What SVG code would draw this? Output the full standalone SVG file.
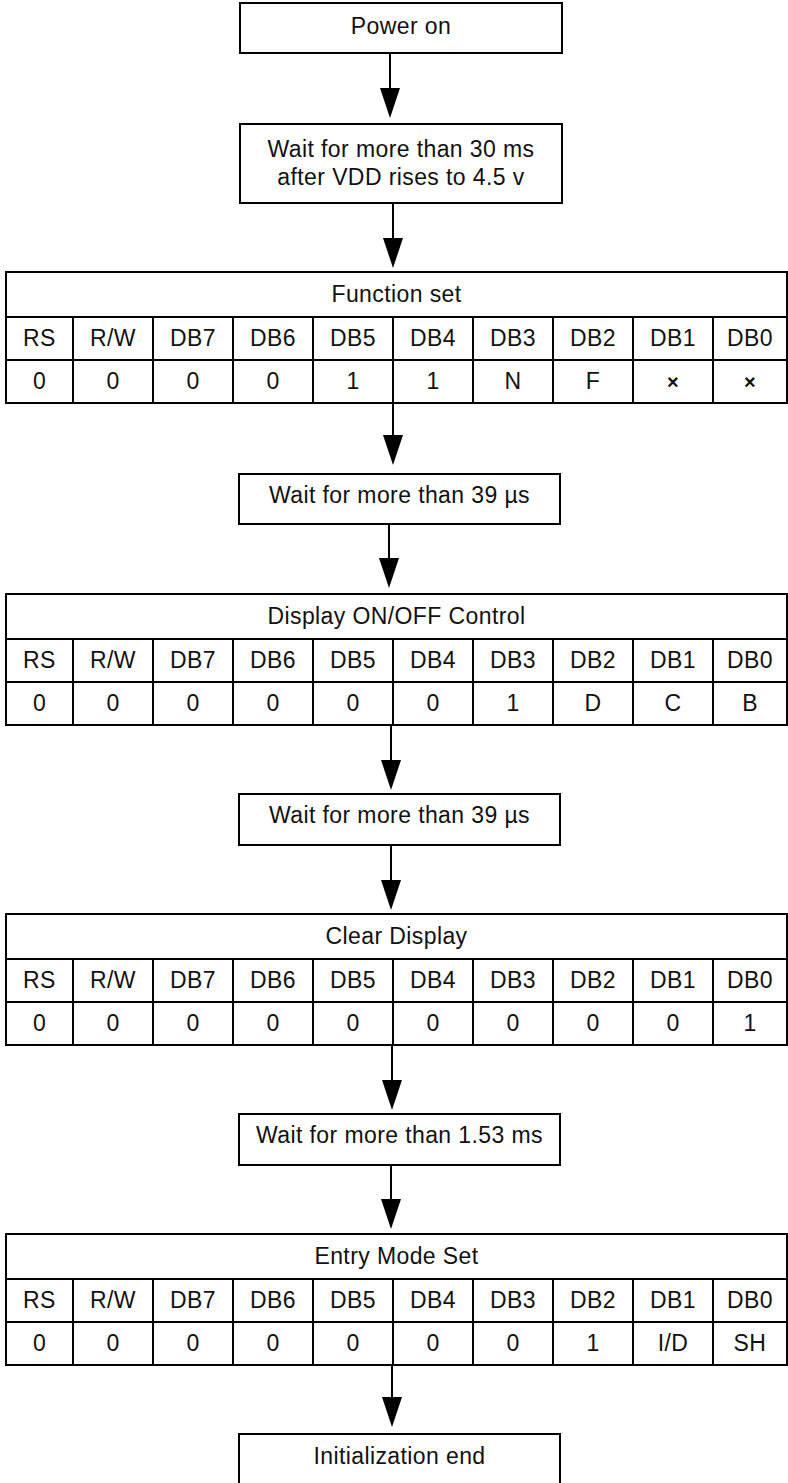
<svg xmlns="http://www.w3.org/2000/svg" width="788" height="1483" viewBox="0 0 788 1483">
<style>
.b{fill:#fff;stroke:#000;stroke-width:2}
.l{fill:none;stroke:#000;stroke-width:2}
.t{font-family:"Liberation Sans",Arial,sans-serif;font-size:23px;letter-spacing:0.4px;fill:#111;text-anchor:middle}
.x{font-weight:bold;font-size:20px}
.ah{fill:#000}
</style>
<defs>
<g id="grid">
<rect class="b" x="6" y="0" width="781" height="131"/>
<path class="l" d="M6 45H787M6 88H787M73 45V131M153 45V131M233 45V131M313 45V131M393 45V131M473 45V131M553 45V131M633 45V131M713 45V131"/>
<g class="t">
<text x="39.5" y="74">RS</text><text x="113" y="74">R/W</text><text x="193" y="74">DB7</text><text x="273" y="74">DB6</text><text x="353" y="74">DB5</text><text x="433" y="74">DB4</text><text x="513" y="74">DB3</text><text x="593" y="74">DB2</text><text x="673" y="74">DB1</text><text x="750" y="74">DB0</text>
</g>
</g>
</defs>
<rect width="788" height="1483" fill="#fff"/>
<g id="connectors">
<path class="l" d="M390 53V95M393 203V240M393 404V440M389 524V560M391 725V762M391 845V882M392 1045V1082M391 1165V1201M392 1366V1399"/>
<polygon class="ah" points="390,118 380,88 400,88"/>
<polygon class="ah" points="393,268 383,238 403,238"/>
<polygon class="ah" points="393,465 383,435 403,435"/>
<polygon class="ah" points="389,588 379,558 399,558"/>
<polygon class="ah" points="391,790 381,760 401,760"/>
<polygon class="ah" points="391,910 381,880 401,880"/>
<polygon class="ah" points="392,1110 382,1080 402,1080"/>
<polygon class="ah" points="391,1229 381,1199 401,1199"/>
<polygon class="ah" points="392,1427 382,1397 402,1397"/>
</g>
<g id="power-on">
<rect class="b" x="240" y="3" width="322" height="50"/>
<text class="t" x="401" y="34">Power on</text>
</g>
<g id="wait-30ms">
<rect class="b" x="240" y="124" width="322" height="79"/>
<text class="t" x="401" y="157">Wait for more than 30 ms</text>
<text class="t" x="401" y="185">after VDD rises to 4.5 v</text>
</g>
<g id="function-set" transform="translate(0,272)">
<use href="#grid"/>
<text class="t" x="396.5" y="30">Function set</text>
<g class="t">
<text x="39.5" y="117">0</text><text x="113" y="117">0</text><text x="193" y="117">0</text><text x="273" y="117">0</text><text x="353" y="117">1</text><text x="433" y="117">1</text><text x="513" y="117">N</text><text x="593" y="117">F</text><text class="x" x="673" y="117">×</text><text class="x" x="750" y="117">×</text>
</g>
</g>
<g id="wait-39us-1">
<rect class="b" x="239" y="474" width="321" height="50"/>
<text class="t" x="399.5" y="503">Wait for more than 39 µs</text>
</g>
<g id="display-control" transform="translate(0,594)">
<use href="#grid"/>
<text class="t" x="396.5" y="30">Display ON/OFF Control</text>
<g class="t">
<text x="39.5" y="117">0</text><text x="113" y="117">0</text><text x="193" y="117">0</text><text x="273" y="117">0</text><text x="353" y="117">0</text><text x="433" y="117">0</text><text x="513" y="117">1</text><text x="593" y="117">D</text><text x="673" y="117">C</text><text x="750" y="117">B</text>
</g>
</g>
<g id="wait-39us-2">
<rect class="b" x="239" y="794" width="321" height="51"/>
<text class="t" x="399.5" y="823">Wait for more than 39 µs</text>
</g>
<g id="clear-display" transform="translate(0,914)">
<use href="#grid"/>
<text class="t" x="396.5" y="30">Clear Display</text>
<g class="t">
<text x="39.5" y="117">0</text><text x="113" y="117">0</text><text x="193" y="117">0</text><text x="273" y="117">0</text><text x="353" y="117">0</text><text x="433" y="117">0</text><text x="513" y="117">0</text><text x="593" y="117">0</text><text x="673" y="117">0</text><text x="750" y="117">1</text>
</g>
</g>
<g id="wait-153ms">
<rect class="b" x="239" y="1114" width="321" height="51"/>
<text class="t" x="399.5" y="1143">Wait for more than 1.53 ms</text>
</g>
<g id="entry-mode-set" transform="translate(0,1234)">
<use href="#grid"/>
<text class="t" x="396.5" y="30">Entry Mode Set</text>
<g class="t">
<text x="39.5" y="117">0</text><text x="113" y="117">0</text><text x="193" y="117">0</text><text x="273" y="117">0</text><text x="353" y="117">0</text><text x="433" y="117">0</text><text x="513" y="117">0</text><text x="593" y="117">1</text><text x="673" y="117">I/D</text><text x="750" y="117">SH</text>
</g>
</g>
<g id="init-end">
<rect class="b" x="239" y="1434" width="321" height="52"/>
<text class="t" x="399.5" y="1464">Initialization end</text>
</g>
</svg>
